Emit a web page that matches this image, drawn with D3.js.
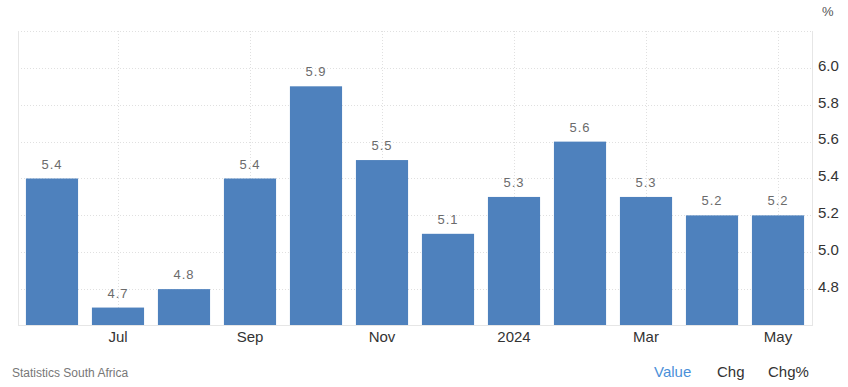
<!DOCTYPE html>
<html>
<head>
<meta charset="utf-8">
<script src="https://cdn.jsdelivr.net/npm/d3@7"></script>
<style>
  body { margin: 0; background: #fff; font-family: "Liberation Sans", Arial, sans-serif; }
</style>
</head>
<body>
<script>
// monthly values, Jun 2023 .. May 2024
const months = ['Jun', 'Jul', 'Aug', 'Sep', 'Oct', 'Nov', 'Dec', '2024', 'Feb', 'Mar', 'Apr', 'May'];
const values = [5.4, 4.7, 4.8, 5.4, 5.9, 5.5, 5.1, 5.3, 5.6, 5.3, 5.2, 5.2];
const shownMonths = ['Jul', 'Sep', 'Nov', '2024', 'Mar', 'May'];
const yTicks = [4.8, 5.0, 5.2, 5.4, 5.6, 5.8, 6.0];
const yGrid = [4.8, 5.0, 5.2, 5.4, 5.6, 5.8, 6.0, 6.2];
const menu = ['Value', 'Chg', 'Chg%'];

const width = 848, height = 387;
const plotLeft = 18, plotRight = 812, plotTop = 31, plotBottom = 326;

const svg = d3.select('body').append('svg')
  .attr('width', width)
  .attr('height', height);

const x = d3.scaleBand().domain(months).range([plotLeft, plotRight])
  .paddingInner(0.21).paddingOuter(0.12);
const y = d3.scaleLinear().domain([4.6, 6.2]).range([plotBottom, plotTop]);

// grid
svg.append('g').selectAll('line').data(yGrid).enter().append('line')
  .attr('x1', plotLeft).attr('x2', plotRight)
  .attr('y1', d => Math.round(y(d)) + 0.5).attr('y2', d => Math.round(y(d)) + 0.5)
  .attr('stroke', '#e0e0e0').attr('stroke-dasharray', '1,2');

svg.append('g').selectAll('line').data(shownMonths).enter().append('line')
  .attr('x1', d => Math.round(x(d) + x.bandwidth() / 2) + 0.5)
  .attr('x2', d => Math.round(x(d) + x.bandwidth() / 2) + 0.5)
  .attr('y1', plotTop).attr('y2', plotBottom)
  .attr('stroke', '#e0e0e0').attr('stroke-dasharray', '1,2');

// frame
svg.append('line').attr('x1', plotLeft + 0.5).attr('x2', plotLeft + 0.5).attr('y1', plotTop).attr('y2', plotBottom)
  .attr('stroke', '#e6e6e6');
svg.append('line').attr('x1', plotRight + 0.5).attr('x2', plotRight + 0.5).attr('y1', plotTop).attr('y2', plotBottom)
  .attr('stroke', '#e6e6e6');
svg.append('line').attr('x1', plotLeft).attr('x2', plotRight).attr('y1', plotBottom - 0.5).attr('y2', plotBottom - 0.5)
  .attr('stroke', '#e6e6e6');

// bars
svg.append('g').selectAll('rect').data(values).enter().append('rect')
  .attr('x', (d, i) => x(months[i]))
  .attr('width', x.bandwidth())
  .attr('y', d => y(d))
  .attr('height', d => plotBottom - 1 - y(d))
  .attr('fill', '#4e81bd');

svg.append('g').selectAll('text').data(values).enter().append('text')
  .attr('x', (d, i) => x(months[i]) + x.bandwidth() / 2)
  .attr('y', d => y(d) - 10)
  .attr('text-anchor', 'middle')
  .attr('font-size', 13)
  .attr('letter-spacing', 1)
  .attr('fill', '#6b6b6b')
  .text(d => d.toFixed(1));

// y axis on the right
const yAxis = d3.axisRight(y).tickValues(yTicks).tickSize(0).tickPadding(6)
  .tickFormat(d3.format('.1f'));
const ya = svg.append('g').attr('transform', `translate(${plotRight},0)`).call(yAxis);
ya.select('.domain').remove();
ya.selectAll('text').attr('font-size', 15).attr('fill', '#333').attr('dy', '0.15em')
  .attr('font-family', '"Liberation Sans", Arial, sans-serif');

svg.append('text').attr('x', 822).attr('y', 16)
  .attr('font-size', 13).attr('fill', '#555').text('%');

// x axis
const xAxis = d3.axisBottom(x).tickValues(shownMonths).tickSize(0).tickPadding(5);
const xa = svg.append('g').attr('transform', `translate(0,${plotBottom})`).call(xAxis);
xa.select('.domain').remove();
xa.selectAll('text').attr('font-size', 15).attr('fill', '#333')
  .attr('font-family', '"Liberation Sans", Arial, sans-serif');

// footer
svg.append('text').attr('x', 12).attr('y', 377)
  .attr('font-size', 12).attr('fill', '#777').text('Statistics South Africa');

const menuX = [654, 717, 768];
svg.append('g').selectAll('text').data(menu).enter().append('text')
  .attr('x', (d, i) => menuX[i]).attr('y', 377)
  .attr('font-size', 15)
  .attr('fill', (d, i) => i === 0 ? '#4a90d9' : '#333')
  .text(d => d);
</script>
</body>
</html>
